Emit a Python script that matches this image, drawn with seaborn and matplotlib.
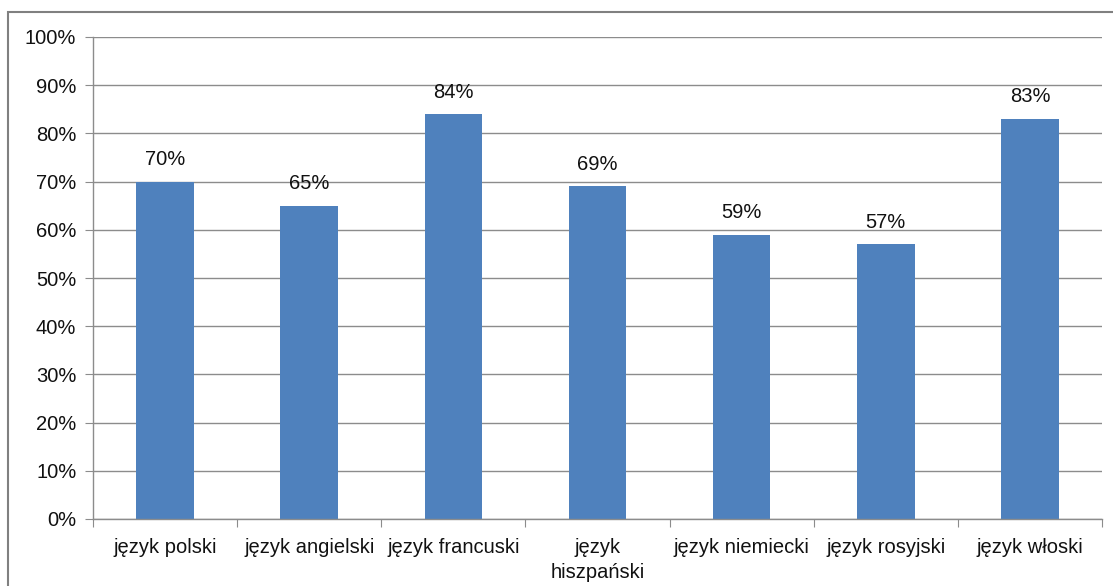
import matplotlib
matplotlib.use("Agg")
import matplotlib.pyplot as plt
import matplotlib.patches as mpatches
from matplotlib.ticker import PercentFormatter
import pandas as pd
import seaborn as sns

# data
languages = ["język polski", "język angielski", "język francuski", "język\nhiszpański",
             "język niemiecki", "język rosyjski", "język włoski"]
values = [70, 65, 84, 69, 59, 57, 83]

df = pd.DataFrame({"language": languages, "value": values})

sns.set_style("white")
plt.rcParams["font.family"] = ["Liberation Sans", "DejaVu Sans"]

fig = plt.figure(figsize=(11.13, 5.86), dpi=100)
ax = fig.add_axes([93 / 1113, 67 / 586, (1102 - 93) / 1113, (519 - 37) / 586])

grid_col = "#8c8c8c"
fs = 14.5
ax.yaxis.grid(True, color=grid_col, linewidth=1)
ax.set_axisbelow(True)

sns.barplot(data=df, x="language", y="value", color="#4F81BD", width=0.4,
            saturation=1, linewidth=0, ax=ax)

ax.set_ylim(0, 100)
ax.set_xlim(-0.5, len(languages) - 0.5)
ax.set_yticks(range(0, 101, 10))
ax.yaxis.set_major_formatter(PercentFormatter(decimals=0))
ax.set_xlabel("")
ax.set_ylabel("")

# value labels above bars
for i, v in enumerate(values):
    ax.text(i, v + 2.6, f"{v}%", ha="center", va="bottom", fontsize=fs, color="#111111")

# x tick marks between categories, labels centred
ax.set_xticks([i - 0.5 for i in range(len(languages) + 1)], minor=False)
ax.set_xticklabels([])
ax.set_xticks(range(len(languages)), minor=True)
ax.set_xticklabels(languages, minor=True, fontsize=fs, color="#111111", va="top",
                   linespacing=1.35)
ax.tick_params(axis="x", which="major", length=6, color=grid_col, direction="out")
ax.tick_params(axis="x", which="minor", length=0, pad=14)
ax.tick_params(axis="y", length=6, color=grid_col, direction="out", labelsize=fs,
               labelcolor="#111111", pad=6)
ax.xaxis.set_ticks_position("bottom")
ax.yaxis.set_ticks_position("left")

for side in ["top", "right"]:
    ax.spines[side].set_visible(False)
for side in ["left", "bottom"]:
    ax.spines[side].set_color(grid_col)
    ax.spines[side].set_linewidth(1)

# outer chart frame (left and top edges visible)
frame = mpatches.Rectangle((8 / 1113, -0.1), 1.2, (586 - 12) / 586 + 0.1,
                           transform=fig.transFigure, fill=False,
                           edgecolor="#808080", linewidth=1.5)
fig.patches.append(frame)

fig.savefig("out.png", dpi=100)
